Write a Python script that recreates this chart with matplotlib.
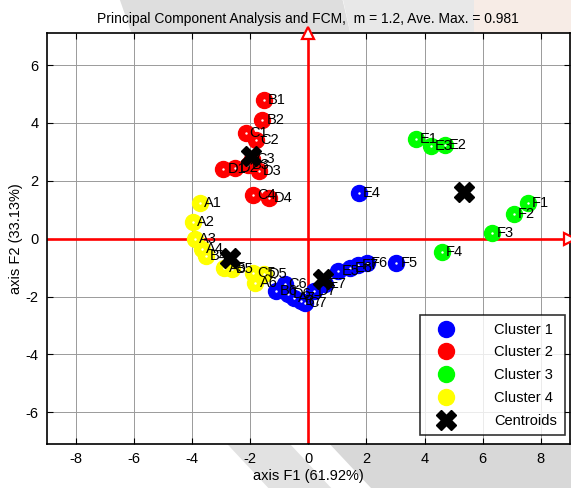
import matplotlib
matplotlib.use("Agg")
import matplotlib.pyplot as plt
from matplotlib.patches import Polygon

plt.rcParams['font.family'] = ['Liberation Sans', 'DejaVu Sans']
plt.rcParams['axes.unicode_minus'] = False

# PCA scores per cluster (F1, F2) with sample labels
c1_labels = ["B6", "C6", "D6", "A7", "B7", "C7", "D7", "E7", "E5", "E6", "F7", "F6", "F5", "E4"]
c1_x = [-1.13, -0.82, -0.69, -0.50, -0.25, -0.13, 0.19, 0.57, 1.01, 1.45, 1.70, 2.01, 3.02, 1.74]
c1_y = [-1.81, -1.58, -1.92, -2.04, -2.15, -2.21, -1.81, -1.58, -1.12, -1.00, -0.91, -0.83, -0.83, 1.56]

c2_labels = ["B1", "B2", "C1", "C2", "C3", "D1", "D2", "B3", "D3", "C4", "D4"]
c2_x = [-1.53, -1.58, -2.16, -1.80, -1.95, -2.93, -2.52, -2.08, -1.70, -1.89, -1.35]
c2_y = [4.80, 4.09, 3.65, 3.40, 2.74, 2.40, 2.45, 2.55, 2.34, 1.50, 1.39]

c3_labels = ["E1", "E3", "E2", "F1", "F2", "F3", "F4"]
c3_x = [3.69, 4.21, 4.69, 7.55, 7.08, 6.33, 4.59]
c3_y = [3.43, 3.20, 3.24, 1.22, 0.84, 0.21, -0.45]

c4_labels = ["A1", "A2", "A3", "A4", "B4", "A5", "B5", "C5", "D5", "A6"]
c4_x = [-3.74, -3.96, -3.90, -3.65, -3.52, -2.89, -2.64, -1.89, -1.51, -1.82]
c4_y = [1.24, 0.59, -0.02, -0.37, -0.60, -1.00, -1.06, -1.18, -1.23, -1.52]

cent_x = [0.50, -1.99, 5.35, -2.70]
cent_y = [-1.41, 2.86, 1.62, -0.66]

clusters = [
    ("Cluster 1", "#0000ff", c1_x, c1_y, c1_labels),
    ("Cluster 2", "#ff0000", c2_x, c2_y, c2_labels),
    ("Cluster 3", "#00ff00", c3_x, c3_y, c3_labels),
    ("Cluster 4", "#ffff00", c4_x, c4_y, c4_labels),
]

fig = plt.figure(figsize=(5.71, 4.88), dpi=100)

# faint backdrop shapes, kept under the axes and its texts
backdrop = [
    ([[0.21, 1.0], [0.60, 1.0], [0.62, 0.90], [0.24, 0.90]], "#dedede"),
    ([[0.60, 1.0], [0.83, 1.0], [0.83, 0.90], [0.62, 0.90]], "#e8e8e8"),
    ([[0.83, 1.0], [1.0, 1.0], [1.0, 0.90], [0.83, 0.90]], "#f7ece6"),
    ([[0.39, 0.10], [0.50, 0.10], [0.58, 0.0], [0.47, 0.0]], "#e2e2e2"),
    ([[0.57, 0.10], [1.0, 0.10], [1.0, 0.0], [0.65, 0.0]], "#d8d8d8"),
]
for pts, fc in backdrop:
    fig.patches.append(Polygon(pts, closed=True, transform=fig.transFigure,
                               fc=fc, ec="none", zorder=-5))

ax = fig.add_axes([0.082, 0.090, 0.916, 0.842])
ax.set_zorder(1)
ax.set_xlim(-9, 9)
ax.set_ylim(-7.1, 7.1)

ax.grid(True, color="#9a9a9a", linewidth=0.7)
ax.set_axisbelow(True)

# axes through the origin with open arrowheads
ax.axhline(0, color="red", lw=1.9, zorder=2)
ax.axvline(0, color="red", lw=1.9, zorder=2)
ax.plot([0], [7.1], marker="^", ms=9, mfc="white", mec="red", mew=1.6, clip_on=False, zorder=5)
ax.plot([9], [0], marker=">", ms=9, mfc="white", mec="red", mew=1.6, clip_on=False, zorder=5)

for name, col, xs, ys, labs in clusters:
    ax.plot(xs, ys, "o", color=col, ms=11.5, mec=col, label=name, zorder=3)
    ax.plot(xs, ys, ".", color="white", ms=1.5, zorder=4)
    for x, y, t in zip(xs, ys, labs):
        ax.annotate(t, (x, y), xytext=(3, 0), textcoords="offset points",
                    fontsize=10.5, va="center", ha="left", zorder=6)

ax.plot(cent_x, cent_y, "X", color="black", ms=15, mec="black", label="Centroids", zorder=7)

handles, labels = ax.get_legend_handles_labels()
leg = ax.legend(handles, labels, loc="lower right", bbox_to_anchor=(0.99, 0.022),
                borderaxespad=0, fontsize=10.5, frameon=True, fancybox=False,
                edgecolor="black", borderpad=0.5, labelspacing=0.6,
                handletextpad=2.0, handlelength=2.6)
leg.get_frame().set_linewidth(1.2)
leg.set_zorder(10)

ax.set_xticks(range(-8, 9, 2))
ax.set_yticks(range(-6, 7, 2))
ax.tick_params(direction="in", top=True, right=True, length=4, labelsize=10.5, pad=6)
for s in ax.spines.values():
    s.set_linewidth(1.2)

ax.set_title("Principal Component Analysis and FCM,  m = 1.2, Ave. Max. = 0.981",
             fontsize=10, pad=7)
ax.set_xlabel("axis F1 (61.92%)", fontsize=10.5, labelpad=2)
ax.set_ylabel("axis F2 (33.13%)", fontsize=10.5, labelpad=2)

fig.savefig("out.png", dpi=100)
